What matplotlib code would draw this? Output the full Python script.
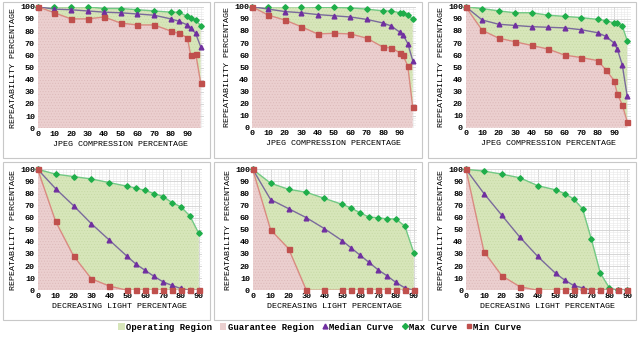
import numpy as np
import matplotlib
matplotlib.use("Agg")
import matplotlib.pyplot as plt
from matplotlib.patches import Rectangle, Patch
from matplotlib.lines import Line2D

plt.rcParams['font.family'] = ['Liberation Mono', 'DejaVu Sans Mono']
plt.rcParams['font.weight'] = 'bold'
plt.rcParams['hatch.linewidth'] = 0.4

# x values
x_jpeg = [0, 10, 20, 30, 40, 50, 60, 70, 80, 85, 90, 92, 95, 98]
x_light = [0, 10, 20, 30, 40, 50, 55, 60, 65, 70, 75, 80, 85, 90]

# top row: JPEG compression
max_j1 = [100, 100, 100, 100, 98.5, 98.5, 97.5, 96.5, 95.5, 95.5, 92, 90.5, 89, 84.5]
med_j1 = [100, 98, 97.5, 96.5, 95.5, 95, 94, 93, 90, 88, 85, 82.5, 78, 67]
min_j1 = [100, 95, 90, 90, 91.5, 86.5, 85, 85, 80, 78, 74.5, 60, 61.5, 37.5]

max_j2 = [100, 100, 100, 100, 99.5, 99.5, 99, 98, 96.5, 96.5, 95, 95, 93.5, 89.5]
med_j2 = [100, 98, 96, 95, 93.5, 92.5, 91.5, 89.5, 86.5, 84, 79, 77, 69.5, 55.5]
min_j2 = [100, 93, 89, 83.5, 77.5, 78, 77.5, 74, 66.5, 66, 62, 60, 51, 17]

max_j3 = [100, 98.5, 96.5, 95, 95, 93, 92, 91, 89.5, 88.5, 86.5, 86.5, 84, 72]
med_j3 = [100, 89, 85.5, 84.5, 83.5, 83, 82.5, 81, 78.5, 75.5, 70, 65, 52, 26]
min_j3 = [100, 80.5, 74, 71, 68, 65, 60, 58, 55.5, 48, 39, 28, 19, 5]

# bottom row: decreasing light
max_l1 = [100, 96, 94, 92, 89, 86, 84.5, 82.5, 80, 77.5, 72.5, 69, 61.5, 47]
med_l1 = [100, 84, 70, 55, 41.5, 28, 21.5, 16.5, 11.5, 7, 4, 1.5, 0, 0]
min_l1 = [100, 57, 28.5, 9.5, 3.5, 0, 0, 0, 0, 0, 0, 0, 0, 0]

max_l2 = [100, 88.5, 83.5, 81, 76, 71, 68, 64, 60.5, 60, 59, 59, 53, 31]
med_l2 = [100, 75, 67.5, 60, 51, 41, 35, 29, 23, 17, 12, 6.5, 2, 0]
min_l2 = [100, 50, 34.5, 0, 0, 0, 0, 0, 0, 0, 0, 0, 0, 0]

max_l3 = [100, 98.5, 96, 93, 86.5, 83, 80, 75.5, 67.5, 42, 14, 2, 0, 0]
med_l3 = [100, 80, 62, 44, 28, 14, 8.5, 4, 2, 0, 0, 0, 0, 0]
min_l3 = [100, 32, 12, 3, 0, 0, 0, 0, 0, 0, 0, 0, 0, 0]

xlabels = ['JPEG COMPRESSION PERCENTAGE'] * 3 + ['DECREASING LIGHT PERCENTAGE'] * 3
ylabel = 'REPEATABILITY PERCENTAGE'
legend_labels = ['Operating Region', 'Guarantee Region', 'Median Curve', 'Max Curve', 'Min Curve']

green_fill = '#d7e6ba'
pink_fill = '#ebcfcf'
c_max, c_max_line = '#1fae4a', '#72c984'
c_med, c_med_line = '#7030a0', '#7a6a9c'
c_min, c_min_line = '#c0504d', '#d98a80'

W, H = 640, 338
fig = plt.figure(figsize=(W / 100, H / 100), dpi=100)

# panel frames (pixels: left, top, right, bottom)
frames = [(3, 2, 210, 158), (214, 2, 422, 158), (428, 2, 636, 158),
          (3, 162, 210, 320), (214, 162, 422, 320), (428, 162, 636, 320)]
for l, t, r, b in frames:
    fig.patches.append(Rectangle((l / W, 1 - b / H), (r - l) / W, (b - t) / H,
                                 transform=fig.transFigure, fill=False,
                                 edgecolor='#c8c8c8', linewidth=0.8))

# axes boxes (pixels: x of 0, x of xmax, y of 100, y of 0)
boxes = [(37.7, 204, 6.7, 128.3), (252, 416, 6.7, 127.7), (465.7, 630.5, 6.7, 127.7),
         (37.7, 201.5, 169.3, 290.3), (252.7, 416.5, 169.3, 290.3), (466, 630, 169.3, 290.3)]
xmaxes = [100, 100, 100, 91.5, 91.5, 91.5]

series = [(x_jpeg, max_j1, med_j1, min_j1), (x_jpeg, max_j2, med_j2, min_j2),
          (x_jpeg, max_j3, med_j3, min_j3), (x_light, max_l1, med_l1, min_l1),
          (x_light, max_l2, med_l2, min_l2), (x_light, max_l3, med_l3, min_l3)]

for i, (xs, mx, md, mn) in enumerate(series):
    x0, x1, y1, y0 = boxes[i]
    ax = fig.add_axes([x0 / W, 1 - y0 / H, (x1 - x0) / W, (y0 - y1) / H])
    ax.set_xlim(0, xmaxes[i])
    ax.set_ylim(0, 100)
    ax.set_xticks(range(0, 100, 10))
    ax.set_yticks(range(0, 101, 10))
    ax.set_xticks(np.arange(0, xmaxes[i], 2), minor=True)
    ax.set_yticks(np.arange(0, 101, 2), minor=True)
    ax.grid(True, which='major', color='#d0d0d0', linewidth=0.6)
    ax.grid(True, which='minor', color='#e8e8e8', linewidth=0.4)
    ax.set_axisbelow(True)
    for s in ax.spines.values():
        s.set_visible(False)
    ax.tick_params(which='both', length=0, labelsize=6, pad=2)

    ax.fill_between(xs, mn, mx, facecolor=green_fill, edgecolor='#c6d9a4',
                    hatch='......', linewidth=0, zorder=2)
    ax.fill_between(xs, 0, mn, facecolor=pink_fill, edgecolor='#dcb9b9',
                    hatch='......', linewidth=0, zorder=2)

    ax.plot(xs, mx, color=c_max_line, linewidth=1.0, zorder=3)
    ax.plot(xs, mx, linestyle='none', marker='D', markersize=2.8,
            color=c_max, zorder=5, clip_on=False)
    ax.plot(xs, md, color=c_med_line, linewidth=1.0, zorder=3)
    ax.plot(xs, md, linestyle='none', marker='^', markersize=3.4,
            color=c_med, zorder=5, clip_on=False)
    ax.plot(xs, mn, color=c_min_line, linewidth=1.0, zorder=3)
    ax.plot(xs, mn, linestyle='none', marker='s', markersize=3.6,
            color=c_min, zorder=6, clip_on=False)

    ax.set_xlabel(xlabels[i], fontsize=6, labelpad=2)
    ax.set_ylabel(ylabel, fontsize=6, labelpad=2)

handles = [Patch(facecolor=green_fill, edgecolor='none'),
           Patch(facecolor=pink_fill, edgecolor='none'),
           Line2D([], [], linestyle='none', marker='^', markersize=3.5, color=c_med),
           Line2D([], [], linestyle='none', marker='D', markersize=3, color=c_max),
           Line2D([], [], linestyle='none', marker='s', markersize=3.5, color=c_min)]
fig.legend(handles, legend_labels, loc='center', bbox_to_anchor=(0.5, 1 - 327 / H),
           ncol=5, frameon=False, fontsize=6.4, handlelength=0.7, handleheight=0.7,
           handletextpad=0.15, columnspacing=0.9, borderpad=0)

fig.savefig('out.png', dpi=100)
